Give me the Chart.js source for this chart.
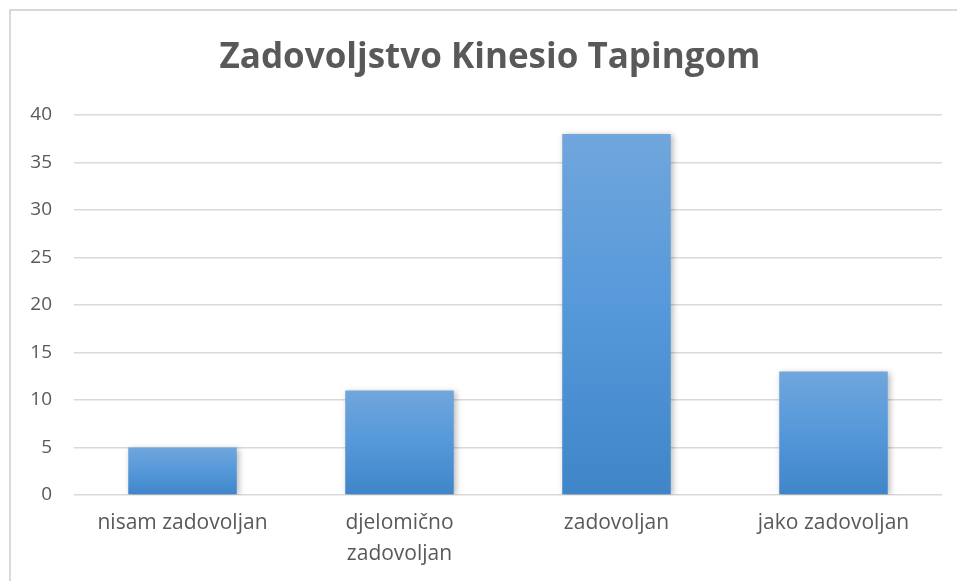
<!DOCTYPE html>
<html>
<head>
<meta charset="utf-8">
<script src="https://cdn.jsdelivr.net/npm/chart.js@4/dist/chart.umd.min.js"></script>
<style>
  html,body{margin:0;padding:0;background:#fff;overflow:hidden;}
  #frame{position:absolute;left:9px;top:9px;width:1000px;height:700px;border:2px solid #d9d9d9;box-sizing:border-box;}
  #wrap{position:absolute;left:0;top:0;width:957px;height:581px;}
</style>
</head>
<body>
<div id="frame"></div>
<div id="wrap"><canvas id="chart" width="957" height="581"></canvas></div>
<script>
/* ---------- DATA ---------- */
const titleText = "Zadovoljstvo Kinesio Tapingom";
const categories = ["nisam zadovoljan", ["djelomično", "zadovoljan"], "zadovoljan", "jako zadovoljan"];
const counts = [5, 11, 38, 13];
const yMax = 40;
const yStep = 5;

const textGray = "#595959";
const gridGray = "#d9d9d9";

/* ---------- BAR GRADIENT (per bar, light top -> darker bottom) ---------- */
function barFill(c){
  const chart = c.chart;
  const ys = chart.scales && chart.scales.y;
  if(!chart.chartArea || !ys || c.parsed == null) return "#5b9bd5";
  const top = ys.getPixelForValue(c.parsed.y);
  const bot = ys.getPixelForValue(0);
  const g = chart.ctx.createLinearGradient(0, top, 0, bot);
  g.addColorStop(0, "#70a6dc");
  g.addColorStop(0.5, "#5598da");
  g.addColorStop(1, "#3f85c8");
  return g;
}

/* ---------- PLUGINS ---------- */
const barShadow = {
  id:"barShadow",
  beforeDatasetsDraw(chart){
    const ctx = chart.ctx;
    ctx.save();
    ctx.shadowColor = "rgba(0,0,0,0.28)";
    ctx.shadowBlur = 6;
    ctx.shadowOffsetX = 2;
    ctx.shadowOffsetY = 1;
  },
  afterDatasetsDraw(chart){
    chart.ctx.restore();
  }
};

// centre the title over the frame rather than the whole canvas
const titleShift = {
  id:"titleShift",
  afterLayout(chart){
    const t = chart.titleBlock;
    if(!t) return;
    t.left = 38;
    t.width = t.right - t.left;
  }
};

new Chart(document.getElementById("chart"),{
  type:"bar",
  data:{
    labels:categories,
    datasets:[{
      data:counts,
      backgroundColor:barFill,
      borderWidth:0,
      categoryPercentage:1,
      barPercentage:0.5
    }]
  },
  plugins:[barShadow, titleShift],
  options:{
    responsive:false,
    animation:false,
    layout:{padding:{left:0,right:15,top:0,bottom:0}},
    plugins:{
      legend:{display:false},
      tooltip:{enabled:false},
      title:{
        display:true,
        text:titleText,
        color:textGray,
        font:{family:"'Open Sans', sans-serif",size:35,weight:"bold",lineHeight:1.2},
        padding:{top:37,bottom:36}
      }
    },
    scales:{
      x:{
        grid:{display:false,drawTicks:false},
        border:{display:false},
        ticks:{
          color:textGray,
          font:{family:"'Open Sans', sans-serif",size:21,lineHeight:1.5},
          padding:12,
          maxRotation:0,
          autoSkip:false
        },
        afterFit(s){ s.height = 86; }
      },
      y:{
        min:0,
        max:yMax,
        grid:{color:gridGray,lineWidth:1.5,drawTicks:false},
        border:{display:false},
        ticks:{
          stepSize:yStep,
          color:textGray,
          font:{family:"'Open Sans', sans-serif",size:19},
          padding:22
        },
        afterFit(s){ s.width = 74; }
      }
    }
  }
});
</script>
</body>
</html>
